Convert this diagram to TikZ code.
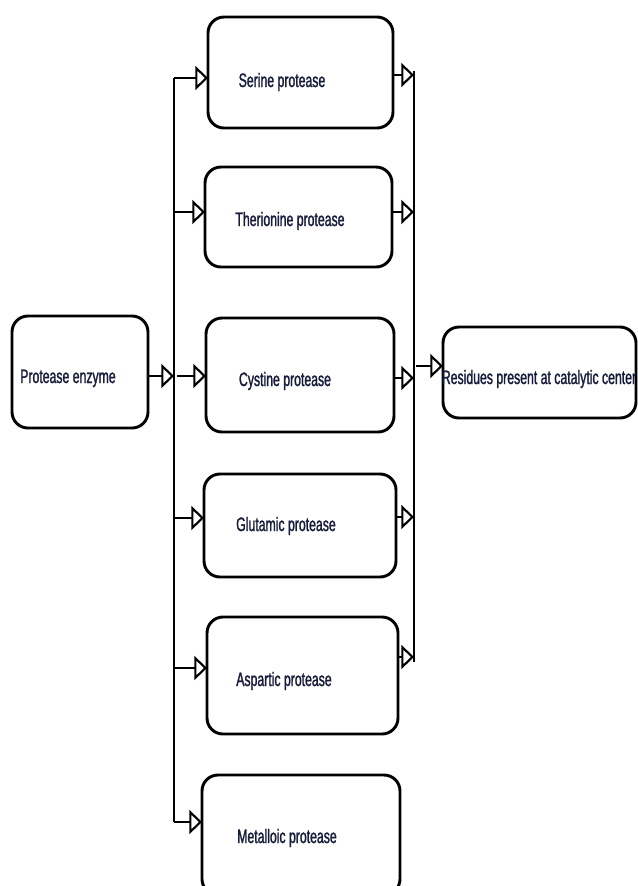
\documentclass[tikz,border=0pt]{standalone}
\usepackage{fontspec}
\newfontfamily\narrowfont[FakeStretch=0.63,FakeBold=1.3]{Liberation Sans}
\usetikzlibrary{arrows.meta}
\definecolor{txt}{RGB}{22,28,58}
\begin{document}
\begin{tikzpicture}[x=0.75pt,y=-0.75pt,
  box/.style={draw, line width=2.2pt, rounded corners=12pt, inner sep=0pt, outer sep=0pt},
  lbl/.style={text=txt, inner sep=0pt, anchor=base, font=\fontsize{14.6pt}{17pt}\narrowfont},
  arr/.style={line width=1.6pt, -{Triangle[open,length=9.5pt,width=18pt,line width=1.6pt]}},
  bus/.style={line width=1.1pt}]
\path[use as bounding box, fill=white] (0,0) rectangle (637,886);
% boxes
\node[box, minimum width=136*0.75pt, minimum height=112*0.75pt] (b0) at (80,372) {};
\node[box, minimum width=185*0.75pt, minimum height=111*0.75pt] (b1) at (300.5,72.5) {};
\node[box, minimum width=187*0.75pt, minimum height=100*0.75pt] (b2) at (298.5,217) {};
\node[box, minimum width=188*0.75pt, minimum height=114*0.75pt] (b3) at (300,375) {};
\node[box, minimum width=192*0.75pt, minimum height=103*0.75pt] (b4) at (300,525.5) {};
\node[box, minimum width=191*0.75pt, minimum height=117*0.75pt] (b5) at (302.5,675.5) {};
\node[box, minimum width=198*0.75pt, minimum height=120*0.75pt] (b6) at (301,835) {};
\node[box, minimum width=193*0.75pt, minimum height=91*0.75pt] (r) at (539.5,372.5) {};
% labels
\node[lbl, anchor=base west] (t0) at (20,383) {Protease enzyme};
\node[lbl] (t1) at (282,87) {Serine protease};
\node[lbl] (t2) at (290,226) {Therionine protease};
\node[lbl] (t3) at (285,386) {Cystine protease};
\node[lbl] (t4) at (286,531) {Glutamic protease};
\node[lbl] (t5) at (284,686) {Aspartic protease};
\node[lbl] (t6) at (287,843) {Metalloic protease};
\node[lbl] (tr) at (539,384) {Residues present at catalytic center};
% left bus
\coordinate (L1) at (174,78);
\coordinate (L2) at (174,212);
\coordinate (L3) at (174,376);
\coordinate (L4) at (174,518);
\coordinate (L5) at (174,668);
\coordinate (L6) at (174,822);
\coordinate (L3b) at (177,376);
\draw[bus] (L1) -- (L6);
\draw[arr] (b0.east |- L3) -- (L3);
\draw[arr] (L1) -- (b1.west |- L1);
\draw[arr] (L2) -- (b2.west |- L2);
\draw[arr] (L3b) -- (b3.west |- L3b);
\draw[arr] (L4) -- (b4.west |- L4);
\draw[arr] (L5) -- (b5.west |- L5);
\draw[arr] (L6) -- (b6.west |- L6);
% right bus
\coordinate (R1) at (414,75);
\coordinate (R2) at (414,212);
\coordinate (R3) at (414,378);
\coordinate (R4) at (414,517);
\coordinate (R5) at (414,657);
\coordinate (Rt) at (414,71);
\coordinate (Rb) at (414,662);
\coordinate (Rr) at (416,366);
\draw[bus] (Rt) -- (Rb);
\draw[arr] (b1.east |- R1) -- (R1);
\draw[arr] (b2.east |- R2) -- (R2);
\draw[arr] (b3.east |- R3) -- (R3);
\draw[arr] (b4.east |- R4) -- (R4);
\draw[arr] (b5.east |- R5) -- (R5);
\draw[arr] (Rr) -- (r.west |- Rr);
\end{tikzpicture}
\end{document}
